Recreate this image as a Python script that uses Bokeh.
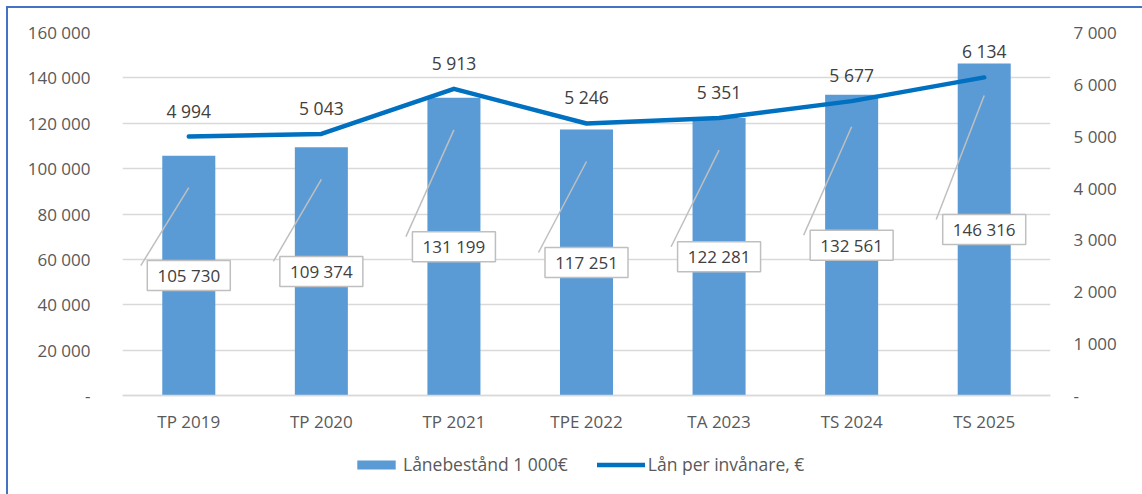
from bokeh.plotting import figure
from bokeh.models import (Range1d, LinearAxis, FixedTicker, ColumnDataSource,
                          Legend, LegendItem, FactorRange)
from bokeh.transform import dodge
from bokeh.embed import file_html
from bokeh.resources import INLINE
from bokeh.core.properties import value

# ---- data ----
categories = ["TP 2019", "TP 2020", "TP 2021", "TPE 2022", "TA 2023", "TS 2024", "TS 2025"]
loan_stock = [105730, 109374, 131199, 117251, 122281, 132561, 146316]      # Lånebestånd 1 000€
loan_per_capita = [4994, 5043, 5913, 5246, 5351, 5677, 6134]              # Lån per invånare, €
left_ticks = [0, 20000, 40000, 60000, 80000, 100000, 120000, 140000, 160000]
right_ticks = [0, 1000, 2000, 3000, 4000, 5000, 6000, 7000]


def fmt(v):
    return "-" if v == 0 else f"{v:,}".replace(",", " ")


FONT = "Open Sans"
AXIS_COLOR = "#595959"
LABEL_COLOR = "#404040"

W, H = 1142, 494
B_LEFT, B_RIGHT, B_TOP, B_BOTTOM = 122, 92, 32, 10
FRAME_W, FRAME_H = W - B_LEFT - B_RIGHT, H - B_TOP - B_BOTTOM
PLOT_H = 363                      # pixel height of the value area (0 .. max)
EXTRA_H = FRAME_H - PLOT_H        # area under the zero line (axis labels + legend)
LEFT_MAX, RIGHT_MAX = left_ticks[-1], right_ticks[-1]
units_per_px = LEFT_MAX / PLOT_H
right_units_per_px = RIGHT_MAX / PLOT_H

src = ColumnDataSource(dict(
    cat=categories,
    stock=loan_stock,
    pc=loan_per_capita,
    half=[v / 2 for v in loan_stock],
    stock_lbl=[fmt(v) for v in loan_stock],
    pc_lbl=[fmt(v) for v in loan_per_capita],
    lead_y0=[v / 2 + 10 * units_per_px for v in loan_stock],
    lead_y1=[v - 32 * units_per_px for v in loan_stock],
))

p = figure(x_range=FactorRange(factors=categories),
           y_range=Range1d(-EXTRA_H * units_per_px, LEFT_MAX),
           width=W, height=H, frame_width=FRAME_W, frame_height=FRAME_H,
           min_border_left=B_LEFT, min_border_right=B_RIGHT,
           min_border_top=B_TOP, min_border_bottom=B_BOTTOM,
           output_backend="svg", toolbar_location=None,
           background_fill_color="white", border_fill_alpha=0,
           outline_line_color=None)
p.styles = {"box-shadow": "inset 6px 6px 0 0 white, inset 8px 8px 0 0 #4472C4",
            "background-color": "white"}
p.extra_y_ranges = {"right": Range1d(-EXTRA_H * right_units_per_px, RIGHT_MAX)}

# left axis
ya = p.yaxis[0]
ya.ticker = FixedTicker(ticks=left_ticks)
ya.major_label_overrides = {t: fmt(t) for t in left_ticks}
ya.axis_line_color = None
ya.major_tick_line_color = None
ya.minor_tick_line_color = None
ya.major_tick_out = 0
ya.major_label_standoff = 32
ya.major_label_text_font = FONT
ya.major_label_text_font_size = "17px"
ya.major_label_text_color = AXIS_COLOR

# right axis
ra = LinearAxis(y_range_name="right", ticker=FixedTicker(ticks=right_ticks))
ra.major_label_overrides = {t: fmt(t) for t in right_ticks}
ra.axis_line_color = None
ra.major_tick_line_color = None
ra.minor_tick_line_color = None
ra.major_tick_out = 0
ra.major_label_standoff = 23
ra.major_label_text_font = FONT
ra.major_label_text_font_size = "17px"
ra.major_label_text_color = AXIS_COLOR
p.add_layout(ra, "right")

# x axis, drawn on the zero line
xa = p.xaxis[0]
xa.fixed_location = 0
xa.axis_line_color = "#D9D9D9"
xa.axis_line_width = 1.5
xa.major_tick_line_color = None
xa.major_tick_out = 0
xa.major_label_standoff = 14
xa.major_label_text_font = FONT
xa.major_label_text_font_size = "17px"
xa.major_label_text_color = AXIS_COLOR

p.xgrid.grid_line_color = None
p.ygrid.ticker = FixedTicker(ticks=left_ticks)
p.ygrid.grid_line_color = "#D9D9D9"
p.ygrid.grid_line_width = 1.4

bars = p.vbar(x="cat", top="stock", bottom=0, width=0.4, source=src,
              fill_color="#5B9BD5", line_color=None)
line = p.line(x="cat", y="pc", y_range_name="right", source=src,
              line_color="#0070C0", line_width=4.5,
              line_join="round", line_cap="round")

# leader lines
p.segment(x0=dodge("cat", -48 / (FRAME_W / len(categories)), range=p.x_range),
          y0="lead_y0", x1="cat", y1="lead_y1", source=src,
          line_color="#BFBFBF", line_width=1.5)

# boxed bar labels
p.rect(x="cat", y="half", width=83, height=30,
       width_units="screen", height_units="screen", source=src,
       fill_color="white", line_color="#BFBFBF", line_width=1.5)
p.text(x="cat", y="half", text="stock_lbl", source=src,
       text_align="center", text_baseline="middle",
       text_font=value(FONT), text_font_size="17px", text_color=LABEL_COLOR)

# line labels
p.text(x="cat", y="pc", y_range_name="right", text="pc_lbl", source=src,
       y_offset=-26, text_align="center", text_baseline="middle",
       text_font=value(FONT), text_font_size="17.5px", text_color=LABEL_COLOR)

legend = Legend(items=[LegendItem(label="Lånebestånd 1 000€", renderers=[bars]),
                       LegendItem(label="Lån per invånare, €", renderers=[line])],
                orientation="horizontal", location=(230, 8),
                glyph_width=48, glyph_height=11, label_standoff=3, spacing=29,
                padding=0, margin=0, border_line_color=None,
                background_fill_alpha=0,
                label_text_font=FONT, label_text_font_size="17.5px",
                label_text_color=AXIS_COLOR)
p.add_layout(legend)

open("out.html", "w").write(file_html(p, INLINE))
